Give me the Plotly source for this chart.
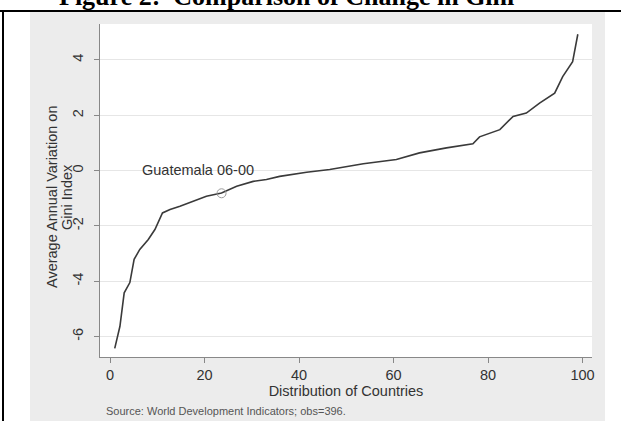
import plotly.graph_objects as go

# ---- data ----
pct = [1.0, 2.1, 3.0, 4.2, 5.1, 6.3, 8.1, 9.5, 11.1, 12.7, 14.8, 17.6, 20.4, 23.6,
       26.8, 30.3, 33.1, 35.9, 41.6, 46.5, 53.6, 60.6, 65.5, 71.2, 76.8, 78.2,
       82.5, 85.3, 88.1, 90.9, 94.1, 95.8, 97.9, 99.0]
gini_change = [-6.43, -5.63, -4.42, -4.05, -3.21, -2.85, -2.49, -2.13, -1.53, -1.41,
               -1.29, -1.11, -0.93, -0.81, -0.57, -0.39, -0.32, -0.21, -0.06, 0.04,
               0.25, 0.40, 0.64, 0.82, 0.97, 1.22, 1.48, 1.96, 2.08, 2.44, 2.80,
               3.40, 3.94, 4.93]
highlight_x = [23.6]
highlight_y = [-0.82]
highlight_label = "Guatemala 06-00"
x_tick_vals = [0, 20, 40, 60, 80, 100]
x_tick_text = ["0", "20", "40", "60", "80", "100"]
y_tick_vals = [-6, -4, -2, 0, 2, 4]
y_tick_text = ["-6", "-4", "-2", "0", "2", "4"]
y_title_lines = ["Average Annual Variation on", "Gini Index"]

W, H = 621, 421
L, R, T, B = 100, 29, 24, 64
PW, PH = W - L - R, H - T - B

def px(p):  # pixel x -> paper x
    return (p - L) / PW

def py(p):  # pixel y -> paper y
    return (H - B - p) / PH

FONT = "Arial, Liberation Sans, sans-serif"
TXT = "#333333"

fig = go.Figure()
fig.add_trace(go.Scatter(x=pct, y=gini_change, mode="lines",
                         line=dict(color="#3a3a3a", width=1.6),
                         hoverinfo="skip", showlegend=False))
fig.add_trace(go.Scatter(x=highlight_x, y=highlight_y, mode="markers",
                         marker=dict(symbol="circle-open", size=9,
                                     color="#9a9a9a", line=dict(width=1)),
                         showlegend=False))

fig.add_annotation(x=highlight_x[0], y=highlight_y[0], text=highlight_label,
                   showarrow=False, xanchor="center", yanchor="middle",
                   xshift=-24, yshift=23,
                   font=dict(family=FONT, size=14.5, color=TXT))

fig.add_annotation(xref="paper", yref="paper", x=px(57), y=py(13),
                   text="<b>Figure 2:  Comparison of Change in Gini</b>",
                   showarrow=False, xanchor="left", yanchor="bottom",
                   font=dict(family="Liberation Serif, Times New Roman, serif",
                             size=26, color="black"))

for line_text, xpix in zip(y_title_lines, [52, 67]):
    fig.add_annotation(xref="paper", yref="paper", x=px(xpix), y=py(197),
                       text=line_text, textangle=-90, showarrow=False,
                       xanchor="center", yanchor="middle",
                       font=dict(family=FONT, size=14.5, color=TXT))

fig.add_annotation(xref="paper", yref="paper", x=px(104), y=py(411),
                   text="Source: World Development Indicators; obs=396.",
                   showarrow=False, xanchor="left", yanchor="middle",
                   font=dict(family=FONT, size=11, color="#555555"))

shapes = [
    dict(type="rect", xref="paper", yref="paper", x0=px(30), x1=px(605),
         y0=py(421), y1=py(12), fillcolor="#ececec", line=dict(width=0), layer="below"),
    dict(type="rect", xref="paper", yref="paper", x0=0, x1=1, y0=0, y1=1,
         fillcolor="white", line=dict(width=0), layer="below"),
    dict(type="line", xref="paper", yref="paper", x0=px(0), x1=px(621),
         y0=py(11), y1=py(11), line=dict(color="black", width=2), layer="above"),
    dict(type="line", xref="paper", yref="paper", x0=px(3), x1=px(3),
         y0=py(10), y1=py(421), line=dict(color="black", width=2), layer="above"),
]

fig.update_layout(
    width=W, height=H,
    margin=dict(l=L, r=R, t=T, b=B),
    paper_bgcolor="white", plot_bgcolor="white",
    shapes=shapes,
    showlegend=False,
    font=dict(family=FONT, size=14.5, color=TXT),
)
fig.update_xaxes(range=[-2.12, 102.0], tickvals=x_tick_vals, ticktext=x_tick_text,
                 ticks="outside", ticklen=5, tickcolor="#888888",
                 showline=True, linecolor="#888888", linewidth=1,
                 showgrid=False, zeroline=False,
                 tickfont=dict(family=FONT, size=14.5, color=TXT),
                 title=dict(text="Distribution of Countries", standoff=2,
                            font=dict(family=FONT, size=14.5, color=TXT)))
fig.update_yaxes(range=[-6.74, 5.30], tickvals=y_tick_vals, ticktext=y_tick_text,
                 ticks="outside", ticklen=5, tickcolor="#888888", tickangle=-90,
                 ticklabelstandoff=5,
                 showline=True, linecolor="#888888", linewidth=1,
                 showgrid=True, gridcolor="#e6e6e6", gridwidth=1, zeroline=False,
                 tickfont=dict(family=FONT, size=14.5, color=TXT))

fig.write_html("out.html", post_script="document.body.style.margin='0';",
               config={"displayModeBar": False})
